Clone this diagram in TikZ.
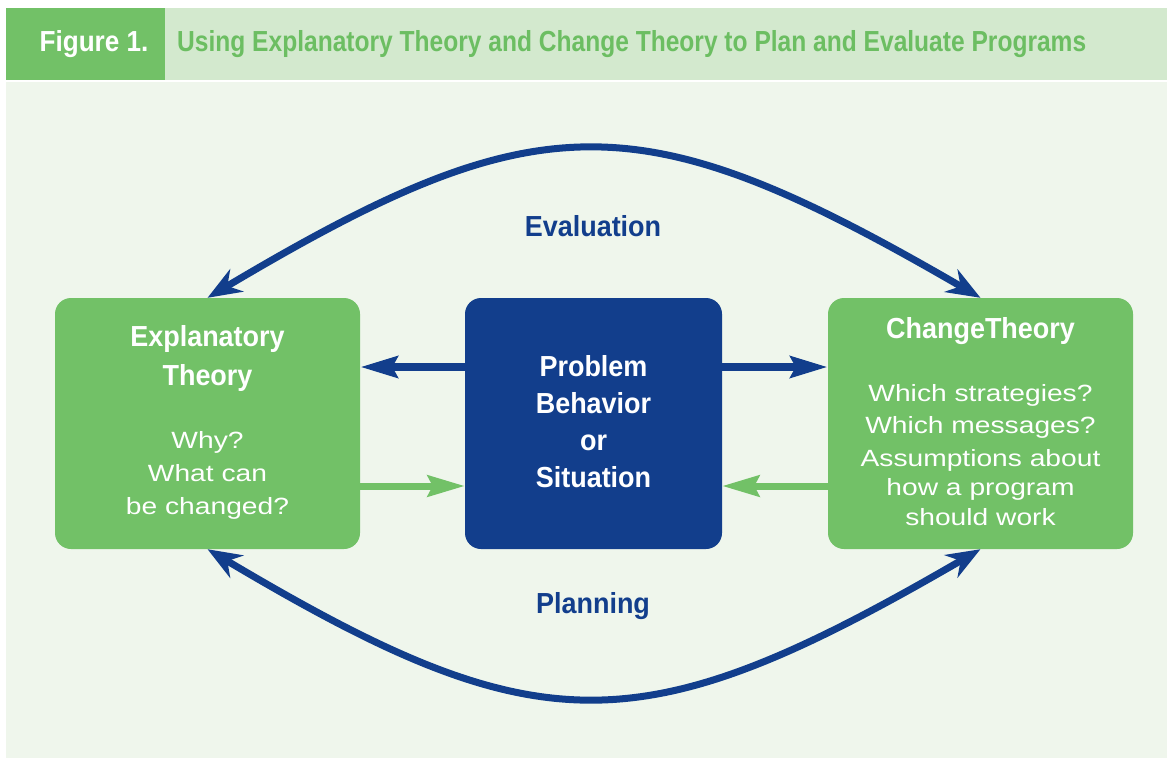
\documentclass[tikz,border=0pt]{standalone}
\usepackage{fontspec}
\setmainfont{Liberation Sans}
\newfontfamily\cnbf[FakeStretch=0.93]{Liberation Sans}
\newfontfamily\figf[FakeStretch=0.9]{Liberation Sans}
\newfontfamily\titf[FakeStretch=0.847]{Liberation Sans}
\newfontfamily\bodyf[FakeStretch=1.2]{Liberation Sans}
\usetikzlibrary{arrows.meta}
\definecolor{dkgreen}{RGB}{114,193,103}
\definecolor{hdrgreen}{RGB}{211,233,206}
\definecolor{bggreen}{RGB}{239,246,236}
\definecolor{navy}{RGB}{18,62,140}
\definecolor{titgreen}{RGB}{108,190,98}
\tikzset{
  gbox/.style={fill=dkgreen, rounded corners=16pt, minimum width=305pt, minimum height=251pt, inner sep=0pt},
  bbox/.style={fill=navy, rounded corners=16pt, minimum width=257pt, minimum height=251pt, inner sep=0pt},
  headtxt/.style={text=white, font=\cnbf\bfseries\fontsize{29}{38.5}\selectfont, align=center, inner sep=0pt},
  bodytxt/.style={text=white, font=\bodyf\fontsize{23.5}{33}\selectfont, align=center, inner sep=0pt},
  lbl/.style={text=navy, font=\cnbf\bfseries\fontsize{29}{32}\selectfont, inner sep=0pt},
  arcarrow/.style={draw=navy, line width=7pt, {Stealth[length=34pt,width=26pt,inset=11pt]}-{Stealth[length=34pt,width=26pt,inset=11pt]}},
  barrow/.style={draw=navy, line width=8pt, -{Stealth[length=37pt,width=21pt,inset=5pt]}},
  garrow/.style={draw=dkgreen, line width=7pt, -{Stealth[length=37pt,width=21pt,inset=5pt]}}
}
\begin{document}
\begin{tikzpicture}[x=1pt,y=-1pt]
\useasboundingbox (0,0) rectangle (1167,761);
% backgrounds
\fill[white] (0,0) rectangle (1167,761);
\fill[dkgreen] (6,8) rectangle (165,80);
\fill[hdrgreen] (165,8) rectangle (1167,80);
\fill[bggreen] (6,82) rectangle (1167,758);
% header texts
\node[text=white, font=\figf\bfseries\fontsize{29}{32}\selectfont, inner sep=0pt] (fig) at (94,44) {Figure 1.};
\node[text=titgreen, font=\titf\bfseries\fontsize{29}{32}\selectfont, inner sep=0pt, anchor=west] (title) at (177,44) {Using Explanatory Theory and Change Theory to Plan and Evaluate Programs};
% boxes
\node[gbox] (expl) at (207.5,423.5) {};
\node[bbox] (prob) at (593.5,423.5) {};
\node[gbox] (chg) at (980.5,423.5) {};
% box texts
\node[headtxt] (explh) at (207.5,358.5) {Explanatory\\Theory};
\node[bodytxt] (explb) at (207.5,475) {Why?\\What can\\be changed?};
\node[headtxt] (chgh) at (980.5,331) {ChangeTheory};
\node[bodytxt, font=\bodyf\fontsize{23.5}{32.5}\selectfont] (chgb) at (980.5,455) {Which strategies?\\Which messages?\\Assumptions about\\[-3pt]how a program\\[-3pt]should work};
\node[headtxt, font=\cnbf\bfseries\fontsize{29}{37}\selectfont] (probt) at (593.5,421.5) {Problem\\Behavior\\or\\Situation};
% labels
\node[lbl] (eval) at (593,226) {Evaluation};
\node[lbl] (plan) at (593,606) {Planning};
% arcs
\draw[arcarrow] (expl.north) .. controls (540,100) and (640,100) .. (chg.north);
\draw[arcarrow] (expl.south) .. controls (540,747) and (640,747) .. (chg.south);
% horizontal arrows
\draw[barrow] ([yshift=56.5pt]prob.west) -- ([yshift=56.5pt]expl.east);
\draw[barrow] ([yshift=56.5pt]prob.east) -- ([yshift=56.5pt]chg.west);
\draw[garrow] ([yshift=-62.5pt]expl.east) -- ([yshift=-62.5pt]prob.west);
\draw[garrow] ([yshift=-62.5pt]chg.west) -- ([yshift=-62.5pt]prob.east);
\end{tikzpicture}
\end{document}
